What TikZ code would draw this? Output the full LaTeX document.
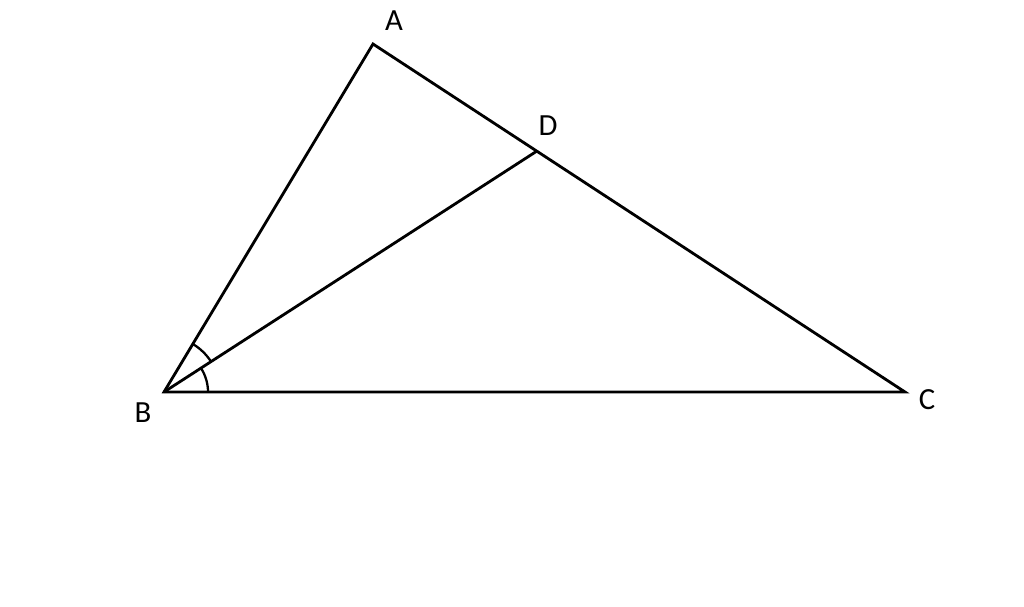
\documentclass[tikz,border=0pt]{standalone}
\usepackage{fontspec}
\setmainfont{Carlito}
\begin{document}
\begin{tikzpicture}[x=0.02cm,y=-0.02cm,
  edge/.style={line width=1.6pt,line join=miter},
  anglemark/.style={line width=1.3pt},
  lbl/.style={font=\fontsize{17.5}{20}\selectfont,inner sep=0pt}]
\useasboundingbox (0,0) rectangle (1024,607);
\coordinate (B) at (164,392);
\coordinate (A) at (373,44);
\coordinate (C) at (905,392);
\coordinate (D) at (537,151);
\draw[edge] (A) -- (B) -- (C) -- cycle;
\draw[edge] (B) -- (D);
\begin{scope}[shift={(B)},x=0.02cm,y=0.02cm]
\draw[anglemark] (59:56) arc[start angle=59,end angle=32.9,radius=56];
\draw[anglemark] (32.9:44) arc[start angle=32.9,end angle=0,radius=44];
\end{scope}
\node[lbl] (lA) at (394,21) {A};
\node[lbl] (lD) at (548,126) {D};
\node[lbl] (lB) at (143,413) {B};
\node[lbl] (lC) at (927,400) {C};
\end{tikzpicture}
\end{document}
